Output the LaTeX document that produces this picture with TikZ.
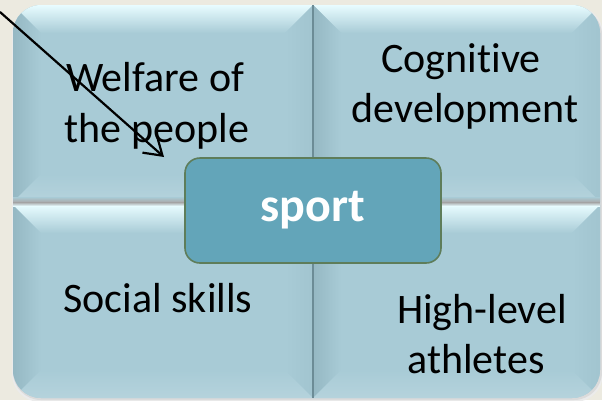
\documentclass[tikz,border=0pt]{standalone}
\usepackage{fontspec}
\setmainfont{Carlito}[Ligatures={NoCommon,NoRequired,NoContextual}]
\usetikzlibrary{arrows.meta}
\definecolor{bgbeige}{HTML}{ECEAE0}
\definecolor{quad}{HTML}{A8CBD6}
\definecolor{quadlight}{HTML}{E8FCFF}
\definecolor{quaddark}{HTML}{95B8C3}
\definecolor{sportfill}{HTML}{63A5B9}
\definecolor{sportedge}{HTML}{5E7D5A}
\definecolor{divline}{HTML}{6C8C96}
\tikzset{
  quadtext/.style={anchor=base, font=\fontsize{42}{50}\selectfont, text=black, inner sep=0pt},
  sportbox/.style={draw=sportedge, line width=1.6pt, fill=sportfill, rounded corners=15pt,
    minimum width=256pt, minimum height=105pt, text=white, font=\fontsize{48}{55}\selectfont\bfseries},
  pointer/.style={black, line width=2.2pt, -{Straight Barb[length=17pt,width=22pt]}},
}
\begin{document}
\begin{tikzpicture}[x=1pt,y=-1pt]
\useasboundingbox (0,0) rectangle (602,400);
\fill[bgbeige] (0,0) rectangle (602,400);
% soft shadow of the panel
\fill[black!8, rounded corners=28pt] (12,6) rectangle (603,402);
\fill[black!14, rounded corners=28pt] (13,7) rectangle (602,400);
% panel
\fill[quad, rounded corners=28pt] (13,5) rectangle (600,398);
\begin{scope}
  \clip[rounded corners=28pt] (13,5) rectangle (600,398);
  \foreach \xa/\xb/\ya/\yb in {13/313/5/202, 313/600/5/202, 13/313/205/398, 313/600/205/398} {
    \shade[top color=quadlight, bottom color=quad]
      (\xa,\ya) -- (\xb,\ya) -- (\xb-28,\ya+28) -- (\xa+28,\ya+28) -- cycle;
    \shade[left color=quaddark, right color=quad]
      (\xa,\ya) -- (\xa+28,\ya+28) -- (\xa+28,\yb-28) -- (\xa,\yb) -- cycle;
    \shade[left color=quad, right color=quaddark!35!quad]
      (\xb,\ya) -- (\xb-28,\ya+28) -- (\xb-28,\yb-28) -- (\xb,\yb) -- cycle;
    \shade[top color=quad, bottom color=quad!85!white]
      (\xa,\yb) -- (\xa+28,\yb-28) -- (\xb-28,\yb-28) -- (\xb,\yb) -- cycle;
  }
  % horizontal divider
  \shade[top color=quad, bottom color=black!33] (13,197) rectangle (600,202);
  \shade[top color=black!36, bottom color=quadlight] (13,202) rectangle (600,206);
  % vertical divider
  \draw[divline, line width=1.4pt] (313,5) -- (313,398);
\end{scope}
% centre box
\node[sportbox] (sport) at (313,210.5) {sport};
% texts
\node[quadtext] (w1) at (155,91) {Welfare of};
\node[quadtext] (w2) at (157,142) {the people};
\node[quadtext] (c1) at (461,72) {Cognitive};
\node[quadtext] (c2) at (465,122) {development};
\node[quadtext] (s1) at (158,312) {Social skills};
\node[quadtext] (h1) at (482,323) {High-level};
\node[quadtext] (h2) at (476,373) {athletes};
% arrow
\coordinate (tail) at (0,12);
\coordinate (tip) at (164,157);
\draw[pointer] (tail) -- (tip);
\end{tikzpicture}
\end{document}
